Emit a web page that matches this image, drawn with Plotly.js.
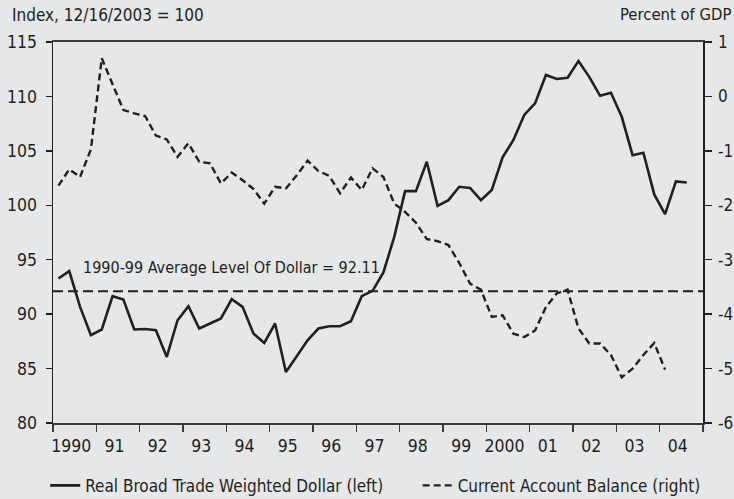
<!DOCTYPE html>
<html>
<head>
<meta charset="utf-8">
<script src="https://cdn.plot.ly/plotly-3.0.1.min.js"></script>
<style>
  html, body { margin: 0; padding: 0; background: #e6e7e8; }
  #chart { width: 734px; height: 499px; }
  #chart text { font-stretch: condensed !important; }
</style>
</head>
<body>
<div id="chart"></div>
<script>
// Year labels (centred in each year)
const yearLabels = ["1990","91","92","93","94","95","96","97","98","99","2000","01","02","03","04"];
const firstYear = 1990;

// Real Broad Trade Weighted Dollar (left axis), quarterly from 1990Q1
const dollarIndex = [
  93.27, 93.95, 90.67, 88.06, 88.59, 91.65, 91.35, 88.59, 88.64, 88.52,
  86.07, 89.44, 90.73, 88.68, 89.14, 89.60, 91.37, 90.67, 88.22, 87.36,
  89.14, 84.69, 86.13, 87.60, 88.68, 88.89, 88.89, 89.35, 91.65, 92.14,
  93.83, 97.10, 101.3, 101.3, 104.0, 99.95, 100.47, 101.7, 101.6, 100.47,
  101.4, 104.4, 106.0, 108.3, 109.36, 111.97, 111.6, 111.72, 113.25, 111.8,
  110.06, 110.34, 108.13, 104.6, 104.83, 101.0, 99.19, 102.2, 102.1
];

// Current Account Balance, percent of GDP (right axis), quarterly from 1990Q1
const currentAccount = [
  -1.64, -1.34, -1.48, -0.97, 0.70, 0.24, -0.25, -0.31, -0.36, -0.72,
  -0.79, -1.11, -0.86, -1.20, -1.23, -1.60, -1.40, -1.54, -1.70, -1.97,
  -1.66, -1.69, -1.45, -1.18, -1.37, -1.46, -1.78, -1.49, -1.72, -1.32,
  -1.48, -1.97, -2.12, -2.32, -2.62, -2.66, -2.73, -3.06, -3.44, -3.55,
  -4.05, -4.02, -4.36, -4.42, -4.30, -3.87, -3.62, -3.55, -4.26, -4.54,
  -4.54, -4.75, -5.16, -5.00, -4.75, -4.53, -5.02
];

const averageLevel = 92.11;
const averageLabel = "1990-99 Average Level Of Dollar = 92.11";

const leftTicks = [80, 85, 90, 95, 100, 105, 110, 115];
const rightTicks = [-6, -5, -4, -3, -2, -1, 0, 1];
const rightTickText = ["-6", "-5", "-4", "-3", "-2", "-1", "0", "1"];

// quarter mid-points as time stamps
function quarterTimes(n) {
  const t = [];
  for (let i = 0; i < n; i++) {
    const yr = firstYear + Math.floor(i / 4);
    const q = i % 4;
    t.push(yr + (q + 0.5) / 4);
  }
  return t;
}

const FONT = '"DejaVu Sans Condensed", "DejaVu Sans", sans-serif';
const INK = '#231f20';

const traces = [
  {
    x: quarterTimes(dollarIndex.length),
    y: dollarIndex,
    type: 'scatter',
    mode: 'lines',
    name: 'Real Broad Trade Weighted Dollar (left)',
    line: { color: INK, width: 2.6 },
    xaxis: 'x', yaxis: 'y',
    legend: 'legend',
    hoverinfo: 'skip'
  },
  {
    x: quarterTimes(currentAccount.length),
    y: currentAccount,
    type: 'scatter',
    mode: 'lines',
    name: 'Current Account Balance (right)',
    line: { color: INK, width: 2.4, dash: '7px,4px' },
    xaxis: 'x', yaxis: 'y2',
    legend: 'legend2',
    hoverinfo: 'skip'
  }
];

const yearMids = yearLabels.map((_, i) => firstYear + i + 0.42);

const legendCommon = {
  orientation: 'h',
  xanchor: 'left',
  y: -0.165, yanchor: 'middle',
  font: { size: 17, family: FONT, color: INK },
  bgcolor: 'rgba(0,0,0,0)',
  itemwidth: 30
};

const layout = {
  width: 734,
  height: 499,
  paper_bgcolor: '#e6e7e8',
  plot_bgcolor: '#e6e7e8',
  font: { family: FONT, color: INK, size: 17 },
  margin: { l: 53, r: 31, t: 42, b: 76, pad: 0, autoexpand: false },
  showlegend: true,
  legend: Object.assign({}, legendCommon, { x: -0.012 }),
  legend2: Object.assign({}, legendCommon, { x: 0.561 }),
  xaxis: {
    range: [1990, 2005],
    tickmode: 'array',
    tickvals: yearMids,
    ticktext: yearLabels,
    ticks: '',
    ticklabelstandoff: 6,
    showgrid: false,
    zeroline: false,
    showline: true,
    linecolor: '#3a3a3c',
    linewidth: 2,
    mirror: true,
    tickfont: { size: 17.5 },
    minor: { tick0: 1990, dtick: 1, ticks: 'outside', ticklen: 7, tickwidth: 1.5, tickcolor: '#3a3a3c', showgrid: false }
  },
  yaxis: {
    range: [80, 115],
    tickmode: 'array',
    tickvals: leftTicks,
    ticks: 'outside',
    ticklen: 6,
    tickwidth: 1.5,
    tickcolor: INK,
    ticklabelstandoff: 5,
    showgrid: false,
    zeroline: false,
    showline: true,
    linecolor: INK,
    linewidth: 1.5,
    tickfont: { size: 17.5 }
  },
  yaxis2: {
    range: [-6, 1],
    overlaying: 'y',
    side: 'right',
    tickmode: 'array',
    tickvals: rightTicks,
    ticktext: rightTickText,
    ticks: 'outside',
    ticklen: 7,
    tickwidth: 1.5,
    tickcolor: INK,
    ticklabelstandoff: 3,
    showgrid: false,
    zeroline: false,
    showline: true,
    linecolor: INK,
    linewidth: 1.5,
    tickfont: { size: 17 }
  },
  shapes: [
    {
      type: 'line', xref: 'paper', yref: 'y',
      x0: 0, x1: 1, y0: averageLevel, y1: averageLevel,
      line: { color: INK, width: 2, dash: '10px,5px' }
    }
  ],
  annotations: [
    {
      text: 'Index, 12/16/2003 = 100',
      xref: 'paper', yref: 'paper',
      x: -0.066, y: 1.071, xanchor: 'left', yanchor: 'middle',
      showarrow: false, font: { size: 17 }
    },
    {
      text: 'Percent of GDP',
      xref: 'paper', yref: 'paper',
      x: 1.046, y: 1.071, xanchor: 'right', yanchor: 'middle',
      showarrow: false, font: { size: 16.5 }
    },
    {
      text: averageLabel,
      xref: 'x', yref: 'y',
      x: 1990.64, y: 94.25, xanchor: 'left', yanchor: 'middle',
      showarrow: false, font: { size: 16 }
    }
  ]
};

Plotly.newPlot('chart', traces, layout, { staticPlot: true, displayModeBar: false });
</script>
</body>
</html>
